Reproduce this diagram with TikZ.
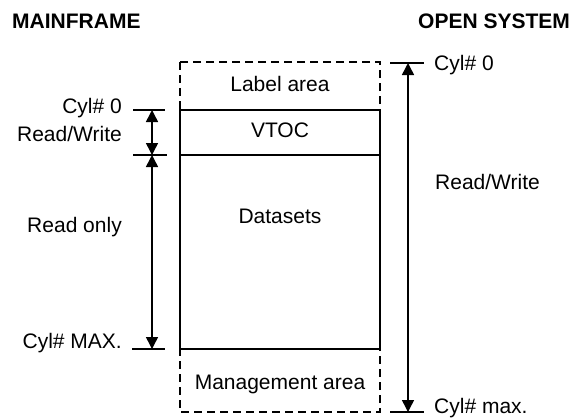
\documentclass[tikz,border=0pt]{standalone}
\usepackage{fontspec}
\setmainfont{Liberation Sans}
\usetikzlibrary{arrows.meta}
\begin{document}
\begin{tikzpicture}[x=1pt,y=-1pt,
  lbl/.style={font=\fontsize{21}{25}\selectfont, inner sep=0pt},
  head/.style={font=\bfseries\fontsize{21}{25}\selectfont, inner sep=0pt},
  solidline/.style={line width=1.5pt},
  dashline/.style={line width=1.5pt, dash pattern=on 8pt off 5pt},
  tickline/.style={line width=1.5pt},
  dimline/.style={line width=1.5pt, {Triangle[length=12pt,width=12pt]}-{Triangle[length=12pt,width=12pt]}}]
\useasboundingbox (0,0) rectangle (570,418);

% headings
\node[head, anchor=base west] (hmf) at (12,28) {MAINFRAME};
\node[head, anchor=base west] (hos) at (418,28) {OPEN SYSTEM};

% volume layout: outer dashed extent and the mainframe part
\coordinate (outerTL) at (180,62);
\coordinate (outerBR) at (380,412);
\coordinate (innerTL) at (180,110);
\coordinate (innerBR) at (380,349);
\coordinate (vtocL) at (180,155);
\coordinate (vtocR) at (380,155);
\draw[dashline] (outerTL) rectangle (outerBR);
\draw[solidline, fill=white] (innerTL) rectangle (innerBR);
\draw[solidline] (vtocL) -- (vtocR);

\node[lbl, anchor=base] (label) at (280,91) {Label area};
\node[lbl, anchor=base] (vtoc) at (280,137.7) {VTOC};
\node[lbl, anchor=base] (data) at (280,223) {Datasets};
\node[lbl, anchor=base] (mgmt) at (280,389) {Management area};

% mainframe dimension marks
\coordinate (lt0a) at (133,110); \coordinate (lt0b) at (165,110);
\coordinate (lt1a) at (133,155); \coordinate (lt1b) at (167,155);
\coordinate (lt2a) at (132,349); \coordinate (lt2b) at (165,349);
\draw[tickline] (lt0a) -- (lt0b);
\draw[tickline] (lt1a) -- (lt1b);
\draw[tickline] (lt2a) -- (lt2b);
\coordinate (l0) at (152,110);
\coordinate (l1) at (152,155);
\coordinate (l2) at (152,349);
\draw[dimline] (l0) -- (l1);
\draw[dimline] (l1) -- (l2);

\node[lbl, anchor=base east] (lcyl0) at (122,113.3) {Cyl\# 0};
\node[lbl, anchor=base east] (lrw) at (122,141.7) {Read/Write};
\node[lbl, anchor=base east] (lro) at (122,232.3) {Read only};
\node[lbl, anchor=base east] (lmax) at (122,348.3) {Cyl\# MAX.};

% open system dimension marks
\coordinate (rt0a) at (390,63); \coordinate (rt0b) at (424,63);
\coordinate (rt1a) at (390,412); \coordinate (rt1b) at (424,412);
\draw[tickline] (rt0a) -- (rt0b);
\draw[tickline] (rt1a) -- (rt1b);
\coordinate (r0) at (408,63);
\coordinate (r1) at (408,412);
\draw[dimline] (r0) -- (r1);

\node[lbl, anchor=base west] (rcyl0) at (434,70) {Cyl\# 0};
\node[lbl, anchor=base west] (rrw) at (435,189.3) {Read/Write};
\node[lbl, anchor=base west] (rmax) at (434,413) {Cyl\# max.};
\end{tikzpicture}
\end{document}
